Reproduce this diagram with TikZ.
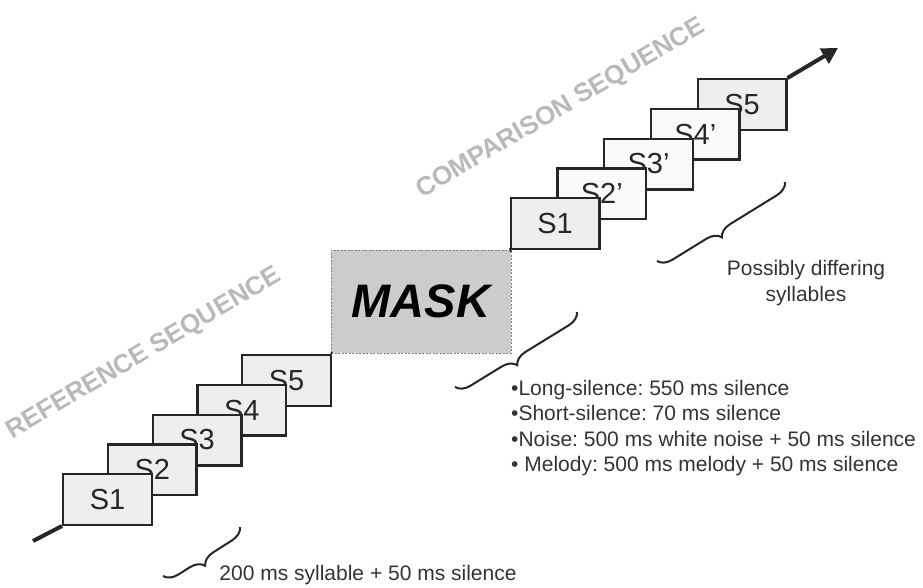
\documentclass[tikz,border=0pt]{standalone}
\usepackage{fontspec}
\setmainfont{Liberation Sans}
\usetikzlibrary{arrows.meta, positioning, calc, decorations.pathreplacing}
\frenchspacing

\begin{document}
\begin{tikzpicture}[
  x=1pt, y=-1pt,
  sylnode/.style = {rectangle, draw=black!85, line width=2.4pt,
    fill=gray!13, minimum width=88.6pt, minimum height=50.6pt,
    inner sep=0pt, text=black!85, font=\fontsize{29}{31}\selectfont},
  newnode/.style = {sylnode, fill=gray!4},
  masknode/.style = {rectangle, draw=gray, line width=0.8pt,
    dash pattern=on 2pt off 1.5pt, fill=gray!40, minimum width=180pt,
    minimum height=103pt, inner sep=0pt,
    font=\fontsize{47}{50}\selectfont\bfseries\itshape},
  seqlabel/.style = {text=gray!55, rotate=30.5,
    font=\fontsize{26}{28}\selectfont\bfseries},
  note/.style = {text=black!80, align=left, inner sep=0pt,
    font=\fontsize{21}{25.3}\selectfont},
  curly/.style = {decorate, decoration={brace, amplitude=14pt, aspect=0.55},
    line width=2pt, black!85},
  arrow/.style = {line width=4pt, black!85},
]
\useasboundingbox (0,0) rectangle (923,587);

% Reference sequence (drawn back to front)
\foreach \i in {5,4,3,2,1}
  \node[sylnode] (ref\i) at ({107.5+44.75*(\i-1)}, {499.5-29.75*(\i-1)}) {S\i};

% Mask
\node[masknode] (mask) at (421,301.5) {MASK};

% Comparison sequence
\foreach \i/\lab/\sty in {5/S5/sylnode, 4/S4’/newnode, 3/S3’/newnode,
    2/S2’/newnode, 1/S1/sylnode}
  \node[\sty] (cmp\i) at ({555+46.75*(\i-1)}, {223.5-29.75*(\i-1)}) {\lab};

% Time line
\coordinate (start) at (33,541);
\coordinate (end) at (838,48);
\draw[arrow] (start) -- (ref1.south west);
\draw[arrow] (ref5.north east) -- (mask.south west);
\draw[arrow] (mask.north east) -- (cmp1.south west);
\draw[arrow, -{Triangle[length=16pt, width=17pt]}] (cmp5.north east) -- (end);

% Sequence labels
\node[seqlabel] (reflabel) at (144,354) {REFERENCE SEQUENCE};
\node[seqlabel] (cmplabel) at (561,109) {COMPARISON SEQUENCE};

% Braces
\draw[curly] (240,527) -- (163,576);
\draw[curly] (577,312) -- (455,387);
\draw[curly] (785,182) -- (657,261);

% Notes
\node[note, anchor=center] (sylnote) at (368,575)
  {200 ms syllable + 50 ms silence};
\node[note, anchor=north west] (masknote) at (511,380)
  {•Long-silence: 550 ms silence\\
   •Short-silence: 70 ms silence\\
   •Noise: 500 ms white noise + 50 ms silence\\
   • Melody: 500 ms melody + 50 ms silence};
\node[note, align=center] (cmpnote) at (806,283)
  {Possibly differing\\syllables};
\end{tikzpicture}
\end{document}
